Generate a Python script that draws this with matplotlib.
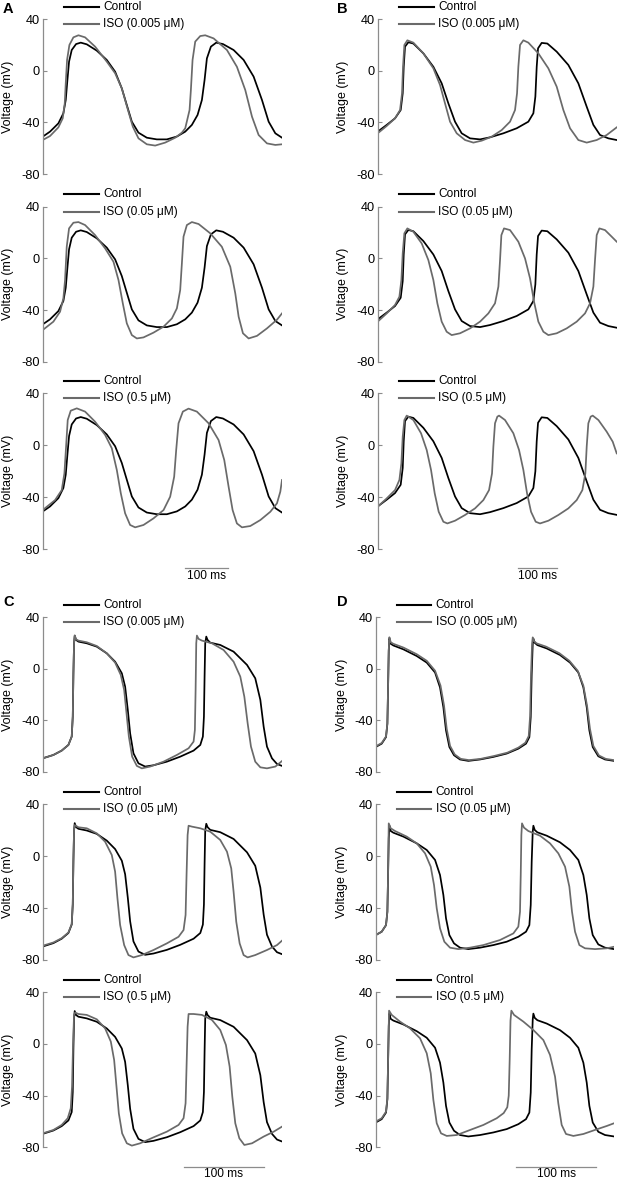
import numpy as np
import matplotlib
matplotlib.use("Agg")
import matplotlib.pyplot as plt

plt.rcParams['font.family'] = ['Liberation Sans', 'DejaVu Sans']
plt.rcParams['axes.unicode_minus'] = False

# ---- data: (time ms, voltage mV) ----
# panel A
a_ctrl = [(0, -51.1), (17, -47.2), (36.4, -40.8), (48, -33), (53.5, -22.7), (57.4, -7.2), (61.2, 7),
          (67.4, 16), (77.5, 20.6), (88.4, 21.7), (102.3, 20.4), (125.6, 15.5), (148.8, 8.3), (168.2, -0.8),
          (183.7, -13.7), (195.3, -26.6), (207, -39.5), (222.4, -48), (241.8, -51.9), (265, -53.2),
          (288.3, -53.2), (311.6, -51), (331, -47.2), (346.4, -42), (359.6, -34.3), (369.7, -22.7),
          (375.9, -7.2), (381.3, 9.5), (390.6, 18.6), (403, 21.7), (418.5, 20.6), (443.3, 16), (466.6, 8.3),
          (489.8, -4.6), (509.2, -22.7), (524.7, -39.5), (540.2, -48.5), (555.7, -51.9)]
a_iso_1 = [(0, -53.7), (17, -50.6), (36.4, -43.9), (46.5, -36.9), (51.2, -25.3), (53.5, -9.8), (56.6, 8.3),
           (62, 19.9), (71.3, 25.8), (83, 27.4), (98.4, 25.8), (121.7, 18.6), (148.8, 7), (168.2, -2),
           (183.7, -13.7), (196.9, -29.2), (209.3, -43.4), (222.4, -52.4), (241.8, -57), (261.2, -58),
           (284.4, -55.7), (307.7, -51.9), (323.2, -48), (331, -44.6), (341, -30.5), (344.1, -15), (348, 8.3),
           (354.2, 22.5), (365.8, 26.8), (377.4, 27.4), (396.8, 25), (427.8, 16), (451, 3), (470.4, -15),
           (486, -35.6), (501.4, -49.8), (520.8, -56.3), (540.2, -57.5), (555.7, -57)]
a_iso_2 = [(0, -55.5), (24.8, -49), (40.3, -41.3), (48, -31), (51.9, -16.8), (55.8, 9), (61.2, 23.2),
           (71.3, 27.6), (83, 28.1), (98.4, 25.8), (121.7, 18), (145, 7.7), (164.3, -2.6), (176, -16.8),
           (186, -34.8), (195.3, -50.3), (207, -59.4), (218.6, -62), (234, -61.2), (257.3, -57.5),
           (280.6, -52.9), (300, -46.5), (311.6, -38.7), (319.3, -24.5), (323.2, -3.9), (327, 16.8),
           (334.8, 25.8), (346.4, 28.1), (362, 26.6), (389, 19.4), (416, 9), (435.6, -6.5), (447.2, -27.1),
           (455, -45.2), (465, -58), (478.2, -62), (497.6, -60), (520.8, -54.2), (544, -47.5), (555.7, -42.6)]
a_iso_3 = [(0, -50), (28.7, -42.3), (44.2, -34.6), (50.4, -21.7), (54.3, -1.1), (58.1, 19.4), (65.1, 26.6),
           (79.1, 28.4), (98.4, 25.9), (121.7, 18.1), (145, 7.9), (160.5, -2.4), (172.1, -19.1), (181.4, -37.1),
           (191.4, -52.5), (203, -61.5), (214.7, -63.3), (234, -61.5), (257.3, -56.4), (280.6, -50),
           (296, -39.7), (305.3, -24.3), (310, -3.7), (315.4, 16.9), (325.5, 25.9), (338.7, 28.2), (358, 25.9),
           (385.2, 16.9), (408.4, 4), (421.6, -11.4), (431.7, -32), (441, -50), (451, -60.3), (462.7, -63.3),
           (482, -62.3), (505.3, -57.7), (528.6, -51.3), (544, -44.8), (551.8, -35.8), (555.7, -26.8)]

# panel B
b_ctrl = [(0, -47.2), (23.5, -42), (45.2, -36.9), (60, -30.5), (65.3, -17.5), (67.9, 3), (71.3, 18.6),
          (80, 22), (93.1, 21), (119.2, 13.4), (145.3, 3), (167, -9.8), (184.4, -25.3), (201.8, -39.5),
          (219.2, -48.5), (241, -52.4), (267.1, -53.2), (293.2, -51.6), (328, -48.5), (362.8, -44.6),
          (393.2, -39.5), (406.3, -33), (411.5, -20.1), (415, 3), (418.5, 17.3), (428, 21.5), (442.8, 21),
          (467.2, 14.7), (497.6, 4.4), (523.7, -9.8), (545.5, -27.9), (562.9, -42), (580.3, -49.8),
          (602, -52.4), (623.8, -53.7)]
b_iso_1 = [(0, -48.5), (23.5, -42.8), (45.2, -36.9), (58.3, -30.5), (63.5, -17.5), (66.1, 3), (69.6, 19.9),
           (77.4, 23.5), (93.1, 21.7), (119.2, 13.4), (145.3, 1.8), (162.7, -11.1), (175.7, -25.3),
           (188.8, -39.5), (206.2, -48.5), (228, -53.7), (249.7, -55.7), (271.4, -54.2), (297.5, -51.1),
           (323.6, -46), (345.4, -39.5), (358.4, -30.5), (363.7, -17.5), (367.1, 3), (371.5, 19.9),
           (380.2, 23.5), (393.2, 21.7), (419.3, 13.4), (445.4, 1.8), (467.2, -12.4), (484.6, -30.5),
           (502, -44.6), (523.7, -53.7), (545.5, -55.7), (571.6, -53.7), (597.7, -49.8), (623.8, -43.9)]
b_iso_2 = [(0, -49), (23.5, -42.6), (45.2, -36.1), (56.6, -29.7), (61.8, -16.8), (65.3, 3.9), (69.6, 19.4),
           (77.4, 23.2), (93.1, 20.6), (114.8, 11.6), (132.2, -1.3), (145.3, -16.8), (155.7, -34.8),
           (167, -49), (180, -56.8), (193.1, -59.4), (214.9, -58), (241, -54.2), (267.1, -49), (288.8, -42.6),
           (306.2, -34.8), (315, -21.9), (319.3, -1.3), (322.8, 18), (329.7, 23.2), (345.4, 21.9),
           (367.1, 12.9), (384.5, 0), (397.6, -15.5), (408, -33.5), (419.3, -49), (432.4, -56.8),
           (445.4, -59.4), (467.2, -58), (493.3, -54.2), (519.4, -49), (541.1, -42.6), (554.2, -34.8),
           (562.9, -21.9), (567.2, -1.3), (571.6, 18), (578.6, 23.2), (593.3, 21.9), (610.7, 16.8),
           (623.8, 12.9)]
b_iso_3 = [(0, -47.4), (23.5, -41), (45.2, -34.6), (56.6, -26.8), (61.8, -14), (65.3, 6.6), (69.6, 19.4),
           (75.7, 22.8), (93.1, 19.4), (113.1, 9.2), (127.9, -3.7), (139.2, -19.1), (148.8, -37.1),
           (159.2, -51.3), (171.4, -59), (181.8, -60.3), (201.8, -58.2), (227.9, -53.8), (254, -48.7),
           (275.8, -42.3), (290.6, -34.6), (298.4, -21.7), (301.9, -1.1), (306.2, 16.9), (312.3, 22),
           (316.7, 22.8), (332.3, 19.4), (354.1, 9.2), (368.9, -3.7), (380.2, -19.1), (389.8, -37.1),
           (400.2, -51.3), (412.4, -59), (423.7, -60.3), (445.4, -58.2), (471.5, -53.8), (497.6, -48.7),
           (519.4, -42.3), (534.2, -34.6), (542, -21.7), (545.5, -1.1), (549.8, 16.9), (555.9, 22),
           (561.2, 22.8), (576, 19.4), (597.7, 10.4), (613.4, 2.7), (623.8, -6.3)]

# panel C
c_ctrl = [(0, -69.6), (13.2, -67), (23.5, -63.6), (31.8, -59.2), (35.9, -52.7), (37.2, -37.2), (38, -3.5),
          (38.8, 19.8), (39.6, 25.5), (41.3, 22.4), (44.2, 21.1), (54.5, 19.8), (66.9, 17.2), (79.3, 12),
          (89.6, 5.5), (97.9, -3.5), (102, -13.9), (105.3, -32), (108.2, -50.2), (112.3, -65.7),
          (118.5, -73.5), (126.8, -76), (137.1, -75), (153.6, -72.2), (170.2, -68.3), (186.7, -63.6),
          (195, -59.2), (198.2, -52.7), (199.5, -37.2), (200.3, -6.1), (201.1, 19.8), (202.4, 25),
          (204, 22.4), (207.3, 20.3), (219.7, 18.5), (236.2, 13.3), (252.8, 3), (263, -7.4), (269.3, -24.2),
          (273.4, -45), (277.5, -60.5), (283.7, -69.6), (289.9, -74), (296.1, -75.5)]
c_iso_1 = [(0, -69.6), (13.2, -67), (23.5, -63.6), (31.8, -59.2), (35.9, -52.7), (37.2, -37.2), (38, -3.5),
           (38.8, 19.8), (39.6, 26), (41.3, 22.9), (44.2, 21.9), (54.5, 20.6), (66.9, 17.7), (79.3, 12),
           (89.6, 4.8), (96.6, -4.8), (100.8, -16.5), (103.7, -34.6), (106.6, -52.7), (110.7, -68.3),
           (116.5, -75.5), (122.7, -77.4), (133, -76), (149.5, -72.2), (166, -67), (180.5, -61.8),
           (186.7, -56.6), (188.3, -47.6), (189.2, -16.5), (190, 19.8), (190.8, 25.8), (192.9, 23.2),
           (197, 21.9), (209.4, 19.8), (223.8, 14.6), (236.2, 5.5), (244.5, -6.1), (249.5, -21.7),
           (253.6, -42.4), (257.7, -60.5), (263, -72.2), (269.3, -76.6), (277.5, -77.4), (287.9, -76),
           (296.1, -71.7)]
c_iso_2 = [(0, -69), (13.2, -66.5), (23.5, -63.2), (31.8, -58.8), (35.9, -52.3), (37.2, -36.8), (38, -3),
           (38.8, 20.2), (39.6, 24), (44.2, 22.3), (54.5, 21.5), (66.9, 17.6), (77.2, 11.2), (85.5, 0.9),
           (89.6, -11.9), (92.5, -32.5), (95.8, -53), (100.8, -68.5), (106.1, -76.2), (112.3, -78),
           (122.7, -76.2), (137.1, -72.3), (153.6, -67.2), (168.1, -62.1), (174.3, -56.9), (176.8, -45.3),
           (178, -14.5), (179.3, 16.3), (180.5, 23.5), (184.6, 22.8), (195, 21.5), (207.3, 18.9),
           (219.7, 12.5), (228, 3.5), (233.3, -9.4), (236.2, -27.4), (239.5, -50.5), (243.7, -67.2),
           (248.6, -76.2), (253.6, -78), (263, -76.2), (277.5, -72.3), (289.9, -68.5), (296.1, -65.1)]
c_iso_3 = [(0, -69.2), (13.2, -66.6), (23.5, -62.7), (31, -57.5), (34.7, -49.8), (36.3, -33), (37.6, 0.5),
           (38.8, 22.5), (40.1, 24.3), (44.2, 23.2), (54.5, 22.5), (66.9, 19.1), (77.2, 12.1), (84.3, 1.8),
           (88.4, -12.4), (91.3, -33), (94.2, -53.7), (98.3, -69.2), (104.1, -76.9), (110.3, -78.7),
           (120.6, -76.9), (137.1, -72.3), (153.6, -67.9), (168.1, -62.7), (174.3, -57.5), (176.8, -45.9),
           (178, -17.5), (179.3, 13.4), (180.5, 23.2), (186.7, 23.2), (197, 22.5), (209.4, 18.6),
           (219.7, 10.8), (226.7, -0.8), (231.3, -17.5), (234.6, -40.8), (238.3, -61.4), (243.3, -73),
           (249.5, -78.2), (259, -76.9), (273.4, -71.7), (285.8, -67.9), (296.1, -64)]

# panel D
d_ctrl = [(0, -60.8), (7.5, -58.2), (12.9, -53.1), (14.6, -42.8), (15.4, -17), (16.3, 13.8), (17.1, 23.5),
          (18.8, 19.4), (22.1, 18.1), (34.6, 15.1), (51.3, 9.9), (63.8, 4.8), (74.2, -2.9), (80.4, -14.5),
          (84.6, -29.9), (87.9, -47.9), (92.1, -60.8), (97.9, -67.2), (105.4, -70.5), (115.8, -71.6),
          (130.4, -70.5), (147.1, -68.5), (163.8, -65.9), (178.3, -62.1), (187.9, -58.2), (192.1, -53.1),
          (193.8, -37.6), (195, -4.2), (196.3, 18.9), (197.1, 23.5), (198.8, 20.2), (202.1, 18.4),
          (213.8, 15.8), (230.4, 10.7), (242.9, 4.8), (253.3, -2.9), (259.6, -14.5), (263.8, -29.9),
          (267.1, -47.9), (271.3, -60.8), (278.3, -68), (286.7, -70.5), (297.9, -71.6)]
d_iso_1 = [(0, -60.3), (7.5, -57.7), (12.9, -52.6), (14.6, -42.3), (15.4, -16.5), (16.3, 14.3), (17.1, 24.5),
           (18.8, 20.6), (22.1, 19.4), (34.6, 16.5), (51.3, 11.3), (63.8, 6.2), (74.2, -1.5), (81, -13),
           (85.4, -28.5), (88.8, -46.8), (93, -60), (98.8, -66.6), (106.3, -70), (116.7, -71), (131.3, -70),
           (147.9, -67.8), (164.6, -65.2), (178.3, -61.3), (187.1, -57.5), (191.3, -52.3), (193, -36.8),
           (194.2, -3.5), (195.5, 19.6), (196.3, 24.4), (198, 21.4), (201.3, 19.7), (213, 17.2),
           (229.6, 12.1), (242.1, 6.2), (252.5, -1.5), (259.6, -13.1), (264.2, -28.7), (267.9, -46.8),
           (272.1, -60), (279.1, -67.4), (287.5, -70), (297.9, -71)]
d_iso_2 = [(0, -60.8), (7.5, -58.2), (12.9, -53.1), (14.6, -42.8), (15.4, -17), (16.3, 25.3), (18.8, 21.5),
           (24.2, 19.4), (38.8, 15.1), (51.3, 9.9), (61.7, 2.2), (68.8, -8.1), (72.9, -22.2), (76.3, -40.2),
           (80.4, -55.6), (85.8, -65.9), (92.9, -70.5), (103.3, -71.6), (117.9, -70.5), (134.6, -68.5),
           (155.4, -64.6), (172.1, -59.5), (178.3, -54.3), (180.4, -42.8), (181.3, -14.5), (182.1, 16.3),
           (182.9, 25.3), (185.4, 22), (190.8, 19.4), (205.4, 15.8), (217.9, 9.9), (228.3, 2.2),
           (236.7, -8.1), (242.1, -23.5), (245.4, -42.8), (249.2, -58.2), (254.6, -68.5), (261.7, -71),
           (274.2, -71.6), (288.8, -71), (297.9, -69.8)]
d_iso_3 = [(0, -60.1), (7.5, -57.5), (12.9, -52.4), (14.6, -42), (15.4, -16), (16.7, 25.8), (20, 22.5),
           (30.4, 17.3), (42.9, 12.1), (55.4, 4.4), (63.8, -7.2), (68.8, -22.7), (72.1, -43.4), (76.3, -61.4),
           (81.7, -69.2), (88.8, -71.2), (101.3, -70.5), (117.9, -66.6), (134.6, -62.7), (151.3, -57.5),
           (160, -53.5), (164.5, -49), (166.3, -40), (167.5, -12), (168.5, 18), (169.6, 25.8), (172.9, 22.5),
           (184.6, 17.3), (197.1, 10.8), (209.6, 3), (217.9, -8.5), (224.2, -25.3), (228.3, -46),
           (232.5, -62.7), (237.9, -69.7), (247.1, -71.2), (259.6, -69.7), (276.3, -66.1), (288.8, -63.5),
           (297.9, -61.4)]

iso_labels = ["ISO (0.005 μM)", "ISO (0.05 μM)", "ISO (0.5 μM)"]
panel_letters = ["A", "B", "C", "D"]
y_ticks = [-80, -40, 0, 40]
scale_start = [329.4, 367, 174.3, 175.4]   # ms, start of the 100 ms bar

panels = [
    (a_ctrl, [a_iso_1, a_iso_2, a_iso_3], 555.7),
    (b_ctrl, [b_iso_1, b_iso_2, b_iso_3], 623.8),
    (c_ctrl, [c_iso_1, c_iso_2, c_iso_3], 296.1),
    (d_ctrl, [d_iso_1, d_iso_2, d_iso_3], 297.9),
]

# ---- layout in pixels ----
W, H = 620, 1181
fig = plt.figure(figsize=(W / 100, H / 100), dpi=100)

col_x = [(42.7, 282), (377.7, 616.7), (42.7, 282), (375.7, 614)]
rows_top = [(19, 174), (206.7, 361.7), (393.3, 549)]
rows_bot = [(617.3, 771.7), (804.3, 960), (992.3, 1147.3)]
letter_pos = [(3, 16), (337, 16), (3, 609), (337, 609)]

ctrl_col = "black"
iso_col = "#6a6a6a"
spine_col = "#8c8c8c"
fs = 8.6

for p, (ctrl, isos, tmax) in enumerate(panels):
    left, right = col_x[p]
    rows = rows_top if p < 2 else rows_bot
    for r, (top, bottom) in enumerate(rows):
        ax = fig.add_axes([left / W, 1 - bottom / H, (right - left) / W, (bottom - top) / H])
        ct = np.array(ctrl)
        it = np.array(isos[r])
        ax.plot(ct[:, 0], ct[:, 1], color=ctrl_col, lw=1.25, solid_joinstyle="round")
        ax.plot(it[:, 0], it[:, 1], color=iso_col, lw=1.25, solid_joinstyle="round")
        ax.set_xlim(0, tmax)
        ax.set_ylim(-80, 40)
        ax.set_yticks(y_ticks)
        ax.set_yticklabels([str(v) for v in y_ticks], fontsize=9.2)
        ax.set_xticks([])
        for s in ["top", "right", "bottom"]:
            ax.spines[s].set_visible(False)
        ax.spines["left"].set_color(spine_col)
        ax.spines["left"].set_linewidth(0.9)
        ax.tick_params(axis="y", direction="in", length=3, width=0.8, color=spine_col, pad=2)
        ax.set_ylabel("Voltage (mV)", fontsize=9)
        # anchor is the right edge of the rotated label
        ax.yaxis.set_label_coords(-0.118, 0.5)
        ax.patch.set_alpha(0)

        # legend drawn by hand
        h = bottom - top
        y_c = 1 + 12.5 / h
        y_i = 1 - 5 / h
        ax.plot([0.088, 0.234], [y_c, y_c], transform=ax.transAxes, color=ctrl_col, lw=1.5, clip_on=False)
        ax.plot([0.088, 0.234], [y_i, y_i], transform=ax.transAxes, color=iso_col, lw=1.5, clip_on=False)
        ax.text(0.252, y_c, "Control", transform=ax.transAxes, fontsize=fs, va="center", ha="left")
        ax.text(0.252, y_i, iso_labels[r], transform=ax.transAxes, fontsize=fs, va="center", ha="left")

        if r == 2:
            t0 = scale_start[p]
            ax.plot([t0, t0 + 100], [-95, -95], color=spine_col, lw=0.9, clip_on=False)
            ax.text(t0 + 50, -96.2, "100 ms", fontsize=fs, ha="center", va="top")

    lx, ly = letter_pos[p]
    fig.text(lx / W, 1 - ly / H, panel_letters[p], fontsize=10.5, fontweight="bold", ha="left", va="bottom")

fig.savefig("out.png", dpi=100)
